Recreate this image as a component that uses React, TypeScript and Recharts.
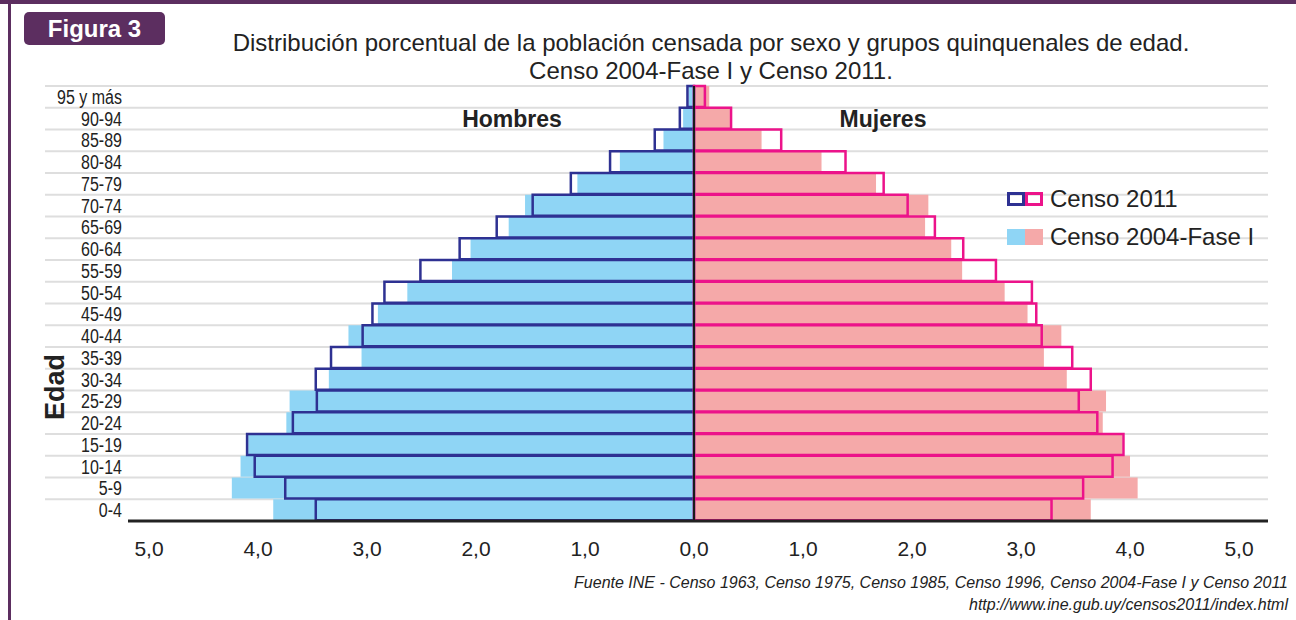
import React from 'react';
import {
  BarChart,
  Bar,
  XAxis,
  YAxis,
  CartesianGrid,
  ReferenceLine,
} from 'recharts';

// grupos quinquenales, de abajo hacia arriba
const AGE_GROUPS = [
  '0-4', '5-9', '10-14', '15-19', '20-24', '25-29', '30-34', '35-39', '40-44', '45-49',
  '50-54', '55-59', '60-64', '65-69', '70-74', '75-79', '80-84', '85-89', '90-94', '95 y más',
];

// porcentajes (%)
const HOMBRES_2011 = [3.47, 3.75, 4.03, 4.1, 3.68, 3.46, 3.47, 3.33, 3.04, 2.95, 2.84, 2.51, 2.15, 1.81, 1.48, 1.13, 0.77, 0.36, 0.13, 0.06];
const HOMBRES_2004 = [3.86, 4.24, 4.16, 4.09, 3.74, 3.71, 3.35, 3.05, 3.17, 2.9, 2.63, 2.22, 2.05, 1.7, 1.55, 1.07, 0.68, 0.28, 0.1, 0.05];
const MUJERES_2011 = [3.28, 3.57, 3.84, 3.94, 3.7, 3.53, 3.64, 3.47, 3.19, 3.14, 3.1, 2.77, 2.47, 2.21, 1.96, 1.74, 1.39, 0.8, 0.34, 0.1];
const MUJERES_2004 = [3.64, 4.07, 4.0, 3.93, 3.75, 3.78, 3.42, 3.21, 3.37, 3.06, 2.85, 2.46, 2.36, 2.12, 2.15, 1.67, 1.17, 0.62, 0.33, 0.14];

const X_TICKS = [-5, -4, -3, -2, -1, 0, 1, 2, 3, 4, 5];

const BLUE_FILL = '#8fd5f5';
const PINK_FILL = '#f5a9a9';
const BLUE_LINE = '#2e3192';
const PINK_LINE = '#ec138a';
const PURPLE = '#5c2e60';
const FONT = "'Liberation Sans', Arial, Helvetica, sans-serif";

const data = AGE_GROUPS.map((edad, i) => ({
  edad,
  h2004: -HOMBRES_2004[i],
  m2004: MUJERES_2004[i],
  h2011: -HOMBRES_2011[i],
  m2011: MUJERES_2011[i],
}));

const fmt = (v: number) => Math.abs(v).toFixed(1).replace('.', ',');

// etiquetas de edad algo condensadas, como en el original
const renderAgeTick = (props: any) => {
  const { x, y, payload } = props;
  return (
    <text
      key={payload.value}
      transform={`translate(${x + 77},${y + 7}) scale(0.8,1)`}
      textAnchor="end"
      fontSize={20}
      fill="#222"
      fontFamily={FONT}
    >
      {payload.value}
    </text>
  );
};

const gridRows = ({ offset }: any) =>
  AGE_GROUPS.map((_, i) => offset.top + (i * offset.height) / AGE_GROUPS.length);

export default function App() {
  return (
    <div style={{ position: 'relative', width: 1296, height: 620, background: '#fff', fontFamily: FONT, color: '#222', overflow: 'hidden' }}>
      <style>{'body{margin:0}'}</style>
      <div style={{ position: 'absolute', left: 0, top: 0, width: 1296, height: 4, background: PURPLE }} />
      <div style={{ position: 'absolute', left: 8, top: 0, width: 3, height: 620, background: PURPLE }} />

      <div
        style={{
          position: 'absolute', left: 24, top: 12, width: 141, height: 33, background: PURPLE,
          borderRadius: 5, color: '#fff', fontWeight: 'bold', fontSize: 24, lineHeight: '33px', textAlign: 'center',
        }}
      >
        Figura 3
      </div>

      <div style={{ position: 'absolute', left: 711, top: 29, transform: 'translateX(-50%)', whiteSpace: 'nowrap', textAlign: 'center', fontSize: 24, lineHeight: '28px' }}>
        Distribución porcentual de la población censada por sexo y grupos quinquenales de edad.
        <br />
        Censo 2004-Fase I y Censo 2011.
      </div>

      <BarChart
        width={1296}
        height={620}
        data={data}
        layout="vertical"
        margin={{ top: 86, right: 28, bottom: 59, left: 44 }}
        barSize={21}
        barGap={-21}
        style={{ position: 'absolute', left: 0, top: 0 }}
      >
        <CartesianGrid horizontal vertical={false} stroke="#dedede" strokeWidth={2} horizontalCoordinatesGenerator={gridRows} />
        <XAxis
          type="number"
          domain={[-5.954, 5.266]}
          ticks={X_TICKS}
          tickFormatter={fmt}
          height={40}
          tickSize={0}
          tickMargin={20}
          tickLine={false}
          axisLine={{ stroke: '#222', strokeWidth: 3, strokeDasharray: '0 83 2000' }}
          tick={{ fontSize: 21, fill: '#222', fontFamily: FONT }}
        />
        <YAxis
          type="category"
          dataKey="edad"
          reversed
          width={1}
          tickSize={0}
          tickMargin={0}
          tickLine={false}
          axisLine={false}
          interval={0}
          tick={renderAgeTick}
        />
        <Bar dataKey="h2004" fill={BLUE_FILL} isAnimationActive={false} />
        <Bar dataKey="m2004" fill={PINK_FILL} isAnimationActive={false} />
        <Bar dataKey="h2011" fill="none" stroke={BLUE_LINE} strokeWidth={2.5} isAnimationActive={false} />
        <Bar dataKey="m2011" fill="none" stroke={PINK_LINE} strokeWidth={2.5} isAnimationActive={false} />
        <ReferenceLine x={0} stroke="#1a1a1a" strokeWidth={2} />
      </BarChart>

      <div style={{ position: 'absolute', left: 512, top: 119, transform: 'translate(-50%,-50%)', fontWeight: 'bold', fontSize: 23 }}>Hombres</div>
      <div style={{ position: 'absolute', left: 883, top: 119, transform: 'translate(-50%,-50%)', fontWeight: 'bold', fontSize: 23 }}>Mujeres</div>

      <div
        style={{
          position: 'absolute', left: 55, top: 387, transform: 'translate(-50%,-50%) rotate(-90deg)',
          fontWeight: 'bold', fontSize: 27, whiteSpace: 'nowrap',
        }}
      >
        Edad
      </div>

      <div style={{ position: 'absolute', left: 1007, top: 185, fontSize: 24, lineHeight: '28px' }}>
        <div style={{ display: 'flex', alignItems: 'center', height: 28, marginBottom: 10 }}>
          <span style={{ width: 18, height: 14, boxSizing: 'border-box', border: `3px solid ${BLUE_LINE}` }} />
          <span style={{ width: 18, height: 14, boxSizing: 'border-box', border: `3px solid ${PINK_LINE}` }} />
          <span style={{ marginLeft: 7 }}>Censo 2011</span>
        </div>
        <div style={{ display: 'flex', alignItems: 'center', height: 28 }}>
          <span style={{ width: 18, height: 16, background: BLUE_FILL }} />
          <span style={{ width: 18, height: 16, background: PINK_FILL }} />
          <span style={{ marginLeft: 7 }}>Censo 2004-Fase I</span>
        </div>
      </div>

      <div style={{ position: 'absolute', right: 8, top: 572, textAlign: 'right', fontStyle: 'italic', fontSize: 16, lineHeight: '22px', color: '#222' }}>
        Fuente INE - Censo 1963, Censo 1975, Censo 1985, Censo 1996, Censo 2004-Fase I y Censo 2011
        <br />
        http://www.ine.gub.uy/censos2011/index.html
      </div>
    </div>
  );
}
